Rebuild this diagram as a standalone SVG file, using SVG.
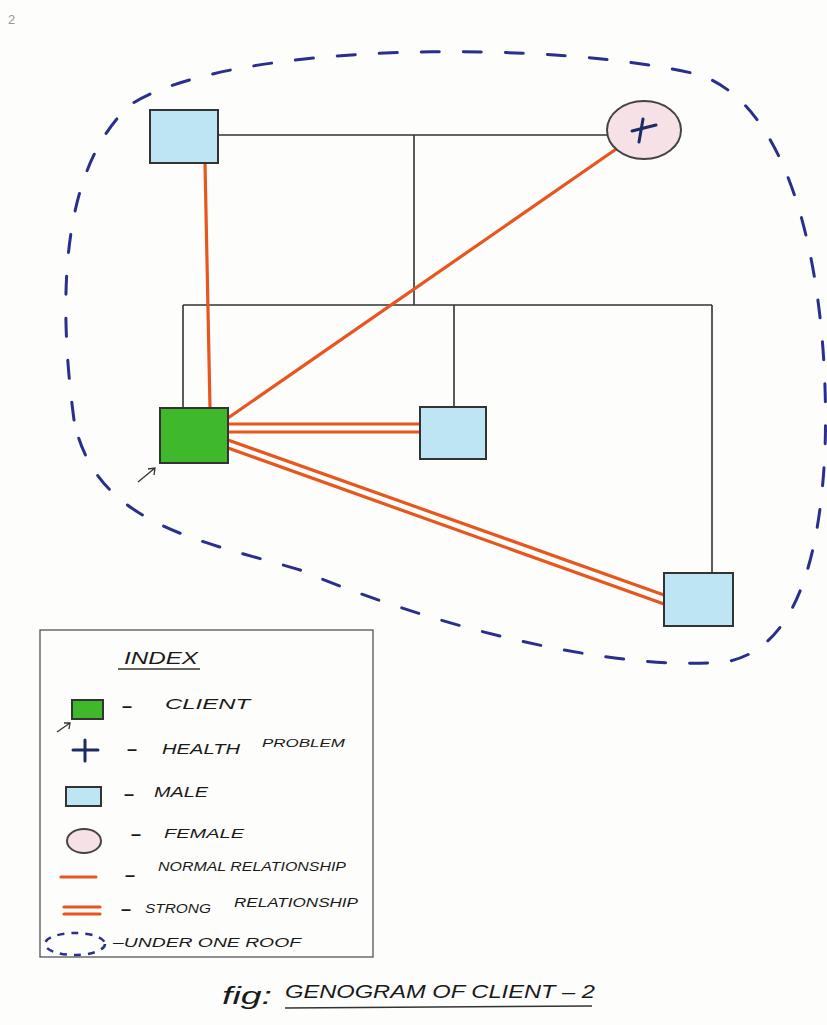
<svg xmlns="http://www.w3.org/2000/svg" width="827" height="1025" viewBox="0 0 827 1025">
<style>
.bg{fill:#fdfdfb}
.male{fill:#bde5f4;stroke:#333;stroke-width:2}
.client{fill:#3fb82b;stroke:#333;stroke-width:2}
.female{fill:#f6e1e6;stroke:#444;stroke-width:2}
.kin{fill:none;stroke:#333;stroke-width:1.6}
.rel{fill:none;stroke:#e8561f;stroke-width:3.2;stroke-linecap:round}
.roof{fill:none;stroke:#2a2f8e;stroke-width:3;stroke-dasharray:18 24;stroke-linecap:round}
.cross{stroke:#1c2a66;stroke-width:3;stroke-linecap:round}
.arrow{fill:none;stroke:#333;stroke-width:1.3}
.txt{font-family:"Liberation Sans",Arial,sans-serif;font-style:italic;fill:#1a1a1a}
.dash{font-family:"Liberation Sans",Arial,sans-serif;font-weight:bold;fill:#1a1a1a;font-size:18px}
</style>
<rect class="bg" x="0" y="0" width="827" height="1025"/>
<text x="8" y="24" style="font-family:'Liberation Sans',sans-serif;font-size:13px;fill:#999">2</text>

<g id="roof">
<path class="roof" d="M 74,420 C 58,300 60,170 130,105 C 230,40 560,40 700,75 C 800,110 830,300 825,450 C 820,560 795,650 725,662 C 610,672 430,625 300,570 C 200,540 95,525 74,420 Z"/>
</g>

<g id="connectors">
<path class="kin" d="M218,135 H607 M414,135 V305 M183,305 H712 M183,305 V408 M454,305 V407 M712,305 V573"/>
<line class="rel" x1="205" y1="163" x2="210" y2="408"/>
<line class="rel" x1="622" y1="145" x2="228" y2="418"/>
<line class="rel" x1="228" y1="424" x2="420" y2="424"/>
<line class="rel" x1="228" y1="432" x2="420" y2="432"/>
<line class="rel" x1="228" y1="440" x2="664" y2="595"/>
<line class="rel" x1="228" y1="448" x2="664" y2="604"/>
</g>

<g id="father"><rect class="male" x="150" y="110" width="68" height="53"/></g>
<g id="mother">
<ellipse class="female" cx="644" cy="130" rx="37" ry="29"/>
<path class="cross" d="M632,131 L656,125 M643,119 L639,142"/>
</g>
<g id="client">
<rect class="client" x="160" y="408" width="68" height="55"/>
<path class="arrow" d="M138,482 L155,468 M148,469 L155,468 L154,475"/>
</g>
<g id="sibling1"><rect class="male" x="420" y="407" width="66" height="52"/></g>
<g id="sibling2"><rect class="male" x="664" y="573" width="69" height="53"/></g>

<g id="legend">
<rect x="40" y="630" width="333" height="327" fill="none" stroke="#555" stroke-width="1.3"/>
<text class="txt" x="124" y="664" font-size="17" textLength="74" lengthAdjust="spacingAndGlyphs">INDEX</text>
<line x1="118" y1="669" x2="200" y2="669" stroke="#333" stroke-width="1.5"/>

<rect class="client" x="72" y="700" width="31" height="19" stroke-width="1.5"/>
<path class="arrow" d="M57,732 L70,723 M64,723 L70,723 L69,729"/>
<text class="dash" x="122" y="712">–</text>
<text class="txt" x="165" y="709" font-size="15" textLength="85" lengthAdjust="spacingAndGlyphs">CLIENT</text>

<path class="cross" d="M73,750 H98 M85,740 V761"/>
<text class="dash" x="127" y="755">–</text>
<text class="txt" x="162" y="754" font-size="14" textLength="78" lengthAdjust="spacingAndGlyphs">HEALTH</text>
<text class="txt" x="262" y="747" font-size="11" textLength="83" lengthAdjust="spacingAndGlyphs">PROBLEM</text>

<rect class="male" x="66" y="787" width="35" height="19" stroke-width="1.5"/>
<text class="dash" x="124" y="800">–</text>
<text class="txt" x="154" y="797" font-size="14" textLength="54" lengthAdjust="spacingAndGlyphs">MALE</text>

<ellipse class="female" cx="84" cy="841" rx="17" ry="12" stroke-width="1.5"/>
<text class="dash" x="131" y="840">–</text>
<text class="txt" x="164" y="838" font-size="13" textLength="80" lengthAdjust="spacingAndGlyphs">FEMALE</text>

<line class="rel" x1="61" y1="877" x2="96" y2="877"/>
<text class="dash" x="125" y="881">–</text>
<text class="txt" x="158" y="871" font-size="12" textLength="188" lengthAdjust="spacingAndGlyphs">NORMAL RELATIONSHIP</text>

<line class="rel" x1="64" y1="907" x2="100" y2="907"/>
<line class="rel" x1="64" y1="914" x2="100" y2="914"/>
<text class="dash" x="121" y="915">–</text>
<text class="txt" x="145" y="913" font-size="13" textLength="66" lengthAdjust="spacingAndGlyphs">STRONG</text>
<text class="txt" x="234" y="907" font-size="13" textLength="124" lengthAdjust="spacingAndGlyphs">RELATIONSHIP</text>

<ellipse cx="75" cy="944" rx="30" ry="11" fill="none" stroke="#2a2f8e" stroke-width="2.5" stroke-dasharray="7 7"/>
<text class="txt" x="113" y="947" font-size="13" textLength="188" lengthAdjust="spacingAndGlyphs">–UNDER ONE ROOF</text>
</g>

<g id="caption">
<text class="txt" x="222" y="1004" font-size="24" textLength="50" lengthAdjust="spacingAndGlyphs">fig:</text>
<text class="txt" x="285" y="998" font-size="19" textLength="310" lengthAdjust="spacingAndGlyphs">GENOGRAM  OF  CLIENT – 2</text>
<line x1="285" y1="1008" x2="592" y2="1006" stroke="#333" stroke-width="1.5"/>
</g>
</svg>
